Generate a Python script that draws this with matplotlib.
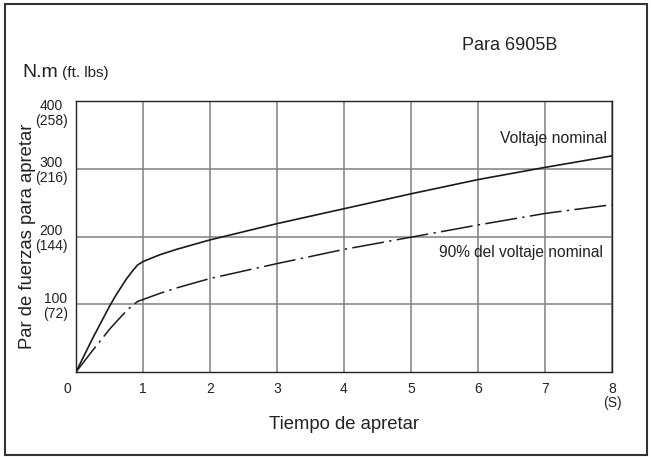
import matplotlib.pyplot as plt
import matplotlib.transforms as mtransforms
from matplotlib.patches import Rectangle

plt.rcParams['font.family'] = ['Liberation Sans', 'DejaVu Sans']

# datos
tiempo = [0, 0.25, 0.5, 0.6, 0.75, 0.85, 0.92, 1, 1.25, 1.5, 2, 3, 4, 5, 6, 7, 8]
par_nominal = [0, 50, 97, 114, 137, 150, 158, 163, 173, 181, 195, 219, 241, 263, 284, 302, 319]
par_90 = [0, 32, 63, 74, 90, 99, 104, 107, 116, 124, 138, 160, 181, 199, 217, 234, 247]

xticks = [0, 1, 2, 3, 4, 5, 6, 7, 8]
xticklabels = ["0", "1", "2", "3", "4", "5", "6", "7", "8\n(S)"]
yticks = [100, 200, 300, 400]
yticklabels = ["100\n(72)", "200\n(144)", "300\n(216)", "400\n(258)"]

fig = plt.figure(figsize=(6.51, 4.57), dpi=100)
ax = fig.add_axes([76 / 651, 85 / 457, 536 / 651, 271 / 457])

ax.plot(tiempo, par_nominal, color="#1a1a1a", lw=1.2)
ax.plot(tiempo, par_90, color="#1a1a1a", lw=1.1, dashes=[21, 3.5, 1.5, 3.5])

ax.set_xlim(0, 8)
ax.set_ylim(0, 400)
ax.set_xticks(xticks)
ax.set_xticklabels(xticklabels, fontsize=10, color="#222222", linespacing=1.05)
ax.set_yticks(yticks)
ax.set_yticklabels(yticklabels, fontsize=10, color="#222222", multialignment="center", linespacing=1.08)
ax.tick_params(length=0, pad=6)
ax.tick_params(axis="x", pad=7)
ax.grid(True, color="#808080", lw=1.1)
for s in ax.spines.values():
    s.set_color("#222222")
    s.set_linewidth(1.0)

# etiqueta "0" desplazada a la izquierda y "400" por debajo de la linea
lbl0 = ax.get_xticklabels()[0]
lbl0.set_transform(lbl0.get_transform() + mtransforms.ScaledTranslation(-9 / 100, 0, fig.dpi_scale_trans))
lbl400 = ax.get_yticklabels()[-1]
lbl400.set_va("top")
lbl400.set_transform(lbl400.get_transform() + mtransforms.ScaledTranslation(0, 2 / 100, fig.dpi_scale_trans))

ax.set_xlabel("Tiempo de apretar", fontsize=13.3, color="#222222", labelpad=4)
ax.set_ylabel("Par de fuerzas para apretar", fontsize=13.3, color="#222222", labelpad=-1)

ax.text(7.93, 345, "Voltaje nominal", fontsize=11.3, ha="right", va="center", color="#222222")
ax.text(7.87, 176, "90% del voltaje nominal", fontsize=11.2, ha="right", va="center", color="#222222")

fig.text(462 / 651, 1 - 45 / 457, "Para 6905B", fontsize=13, ha="left", va="center", color="#222222")
fig.text(22 / 651, 1 - 77 / 457, "N.m", fontsize=14, ha="left", va="baseline", color="#222222")
fig.text(62 / 651, 1 - 77 / 457, "(ft. lbs)", fontsize=11, ha="left", va="baseline", color="#222222")

fig.patches.append(Rectangle((5 / 651, 2 / 457), 642 / 651, 451 / 457, transform=fig.transFigure,
                             fill=False, edgecolor="#333333", lw=1.5))

fig.savefig("out.png", dpi=100)
